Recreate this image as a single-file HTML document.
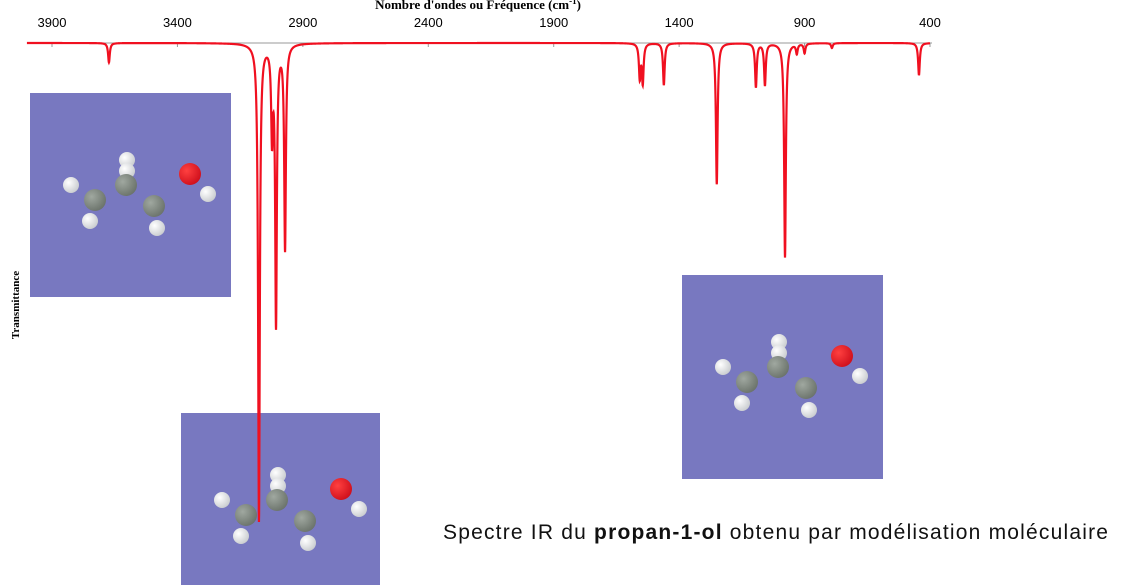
<!DOCTYPE html>
<html><head><meta charset="utf-8"><style>
body{margin:0;width:1135px;height:585px;background:#fff;overflow:hidden;position:relative;font-family:"Liberation Sans",sans-serif}
.box{position:absolute;background:#7878c0}
.atom{position:absolute;border-radius:50%}
</style></head><body>
<div class="box" style="left:30px;top:93px;width:201px;height:204px"></div>
<div class="box" style="left:181px;top:413px;width:199px;height:172px"></div>
<div class="box" style="left:682px;top:275px;width:201px;height:204px"></div>
<svg id="chart" width="1135" height="585" style="position:absolute;left:0;top:0">
<text x="478" y="9" text-anchor="middle" font-family="Liberation Serif" font-weight="bold" font-size="13">Nombre d'ondes ou Fréquence (cm<tspan font-size="9" dy="-5">-1</tspan><tspan dy="5">)</tspan></text>
<text transform="translate(19,305) rotate(-90)" text-anchor="middle" font-family="Liberation Serif" font-weight="bold" font-size="11">Transmittance</text>
<line x1="28" y1="43" x2="932" y2="43" stroke="#999"/>
<g id="ticks"></g>
<path id="spec" fill="none" stroke="#f01020" stroke-width="2.2"/>
</svg>
<div style="position:absolute;left:443px;top:521px;font-size:21px;letter-spacing:1.2px;color:#111">Spectre IR du <b>propan-1-ol</b> obtenu par modélisation moléculaire</div>
<script>
const tickValues=[3900,3400,2900,2400,1900,1400,900,400];
const peakPositions=[3673,3075,3023,3007,2971,1557,1545,1461,1250,1094,1058,978,931,900,791,444];
const peakDepths=[4,98,18,57,42,7,8,8.6,29,9,8.6,44,2,2,1,6.6];
const peakWidth=4;
const xs=v=>52+(3900-v)*(878/3500);
const ys=t=>43+(100-t)*4.87;
const svg=document.getElementById('chart');
const tg=document.getElementById('ticks');
tickValues.forEach(v=>{
 const t=document.createElementNS('http://www.w3.org/2000/svg','text');
 t.setAttribute('x',xs(v));t.setAttribute('y',27);t.setAttribute('text-anchor','middle');t.setAttribute('font-size','13');
 t.setAttribute('font-family','Liberation Sans');
 
 
 t.textContent=v;tg.appendChild(t);
 const l=document.createElementNS('http://www.w3.org/2000/svg','line');
 l.setAttribute('x1',xs(v));l.setAttribute('x2',xs(v));l.setAttribute('y1',43);l.setAttribute('y2',47);l.setAttribute('stroke','#999');
 
 
 tg.appendChild(l);
});
let d='';
for(let v=4000;v>=400;v-=0.5){
 let T=100;
 for(let i=0;i<peakPositions.length;i++){const dv=v-peakPositions[i];T-=peakDepths[i]*peakWidth*peakWidth/(dv*dv+peakWidth*peakWidth);}
 d+=(d?'L':'M')+xs(v).toFixed(2)+' '+ys(T).toFixed(2);
}
document.getElementById('spec').setAttribute('d',d);
const tmpl=[['h',41,92,16],['h',60,128,16],['c',65,107,22],['h',97,67,16],['h',97,78,16],['c',96,92,22],['h',127,135,16],['c',124,113,22],['o',160,81,22],['h',178,101,16]];
const boxes=[[30,93],[181,408],[682,275]];
boxes.forEach(b=>{tmpl.forEach(a=>{
 const e=document.createElement('div');e.className='atom';
 
 
 const s=a[3];e.style.left=(b[0]+a[1]-s/2)+'px';e.style.top=(b[1]+a[2]-s/2)+'px';e.style.width=s+'px';e.style.height=s+'px';
 e.style.background=a[0]=='c'?'radial-gradient(circle at 35% 35%,#a0a8a0,#5a625a)':a[0]=='o'?'radial-gradient(circle at 35% 35%,#ff4040,#c00010)':'radial-gradient(circle at 35% 35%,#fff,#b8bcc0)';
 document.body.insertBefore(e,svg);
});});
</script>
</body></html>
